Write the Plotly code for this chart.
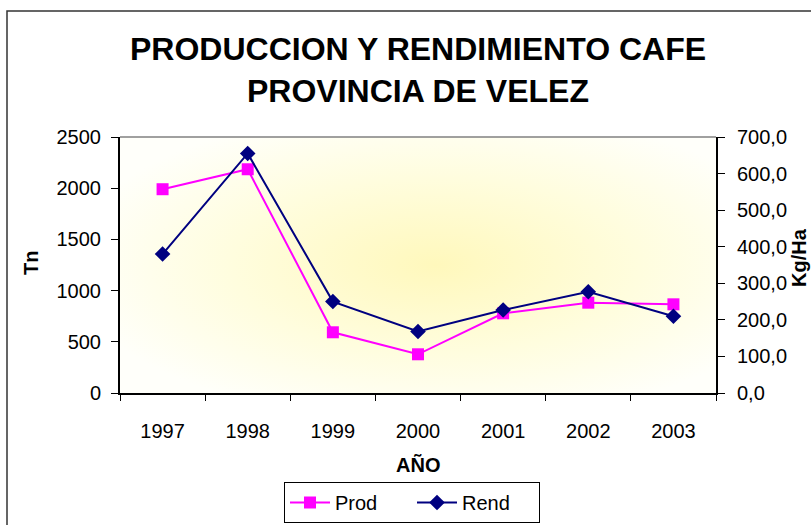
import base64
import plotly.graph_objects as go

years = ["1997", "1998", "1999", "2000", "2001", "2002", "2003"]
prod = [1990, 2185, 593, 378, 778, 882, 866]
rend = [380, 655, 250, 168, 227, 277, 210]

W, H = 811, 525
L, R, T, B = 120, 716, 137, 393

def px(x):
    return (x - L) / (R - L)

def py(y):
    return (B - y) / (B - T)

svg = ('<svg xmlns="http://www.w3.org/2000/svg" width="596" height="256" viewBox="0 0 596 256" preserveAspectRatio="none">'
       '<defs><radialGradient id="g" cx="0.53" cy="0.5" r="0.62" gradientUnits="objectBoundingBox">'
       '<stop offset="0" stop-color="#FFF8BC"/><stop offset="0.55" stop-color="#FFFDDE"/>'
       '<stop offset="1" stop-color="#FFFFFA"/></radialGradient></defs>'
       '<rect x="0" y="0" width="596" height="256" fill="url(#g)"/></svg>')
src = "data:image/svg+xml;base64," + base64.b64encode(svg.encode()).decode()

fig = go.Figure()
fig.add_trace(go.Scatter(x=years, y=prod, name="Prod", mode="lines+markers",
                         line=dict(color="#FF00FF", width=2),
                         marker=dict(symbol="square", size=12, color="#FF00FF")))
fig.add_trace(go.Scatter(x=years, y=rend, name="Rend", mode="lines+markers", yaxis="y2",
                         line=dict(color="#000080", width=2),
                         marker=dict(symbol="diamond", size=12, color="#000080")))

FONT = "Liberation Sans, Arial"
tickfont = dict(family=FONT, size=20, color="black")
boldfont = dict(family=FONT, size=20, color="black")

fig.update_layout(
    width=W, height=H,
    margin=dict(l=L, r=W - R, t=T, b=H - B, autoexpand=False),
    paper_bgcolor="white", plot_bgcolor="rgba(0,0,0,0)",
    separators=",.",
    showlegend=True,
    legend=dict(orientation="h", x=px(284), xanchor="left",
                y=py(482), yanchor="top", bordercolor="black", borderwidth=1,
                bgcolor="white", font=dict(family=FONT, size=20, color="black"),
                itemwidth=40, entrywidth=72, tracegroupgap=0),
    xaxis=dict(type="category", range=[-0.5, 6.5], showline=True, linecolor="black", linewidth=2,
               ticks="outside", ticklen=6, tickcolor="black", tickson="boundaries",
               showgrid=False, tickfont=tickfont, ticklabelstandoff=19, zeroline=False),
    yaxis=dict(range=[0, 2500], dtick=500, tickformat="d", showline=True, linecolor="black", linewidth=2,
               ticks="outside", ticklen=7, tickcolor="black", showgrid=False, zeroline=False,
               tickfont=tickfont, ticklabelstandoff=6),
    yaxis2=dict(range=[0, 700], dtick=100, tickformat=".1f", overlaying="y", side="right",
                showline=True, linecolor="black", linewidth=2, ticks="outside", ticklen=7,
                tickcolor="black", showgrid=False, zeroline=False, tickfont=tickfont,
                ticklabelstandoff=8),
    images=[dict(source=src, xref="paper", yref="paper", x=0, y=1, sizex=1, sizey=1,
                 sizing="stretch", layer="below", xanchor="left", yanchor="top")],
    shapes=[
        dict(type="line", xref="paper", yref="paper", x0=0, x1=1, y0=1, y1=1,
             line=dict(color="#808080", width=1.5)),
        dict(type="rect", xref="paper", yref="paper", x0=px(7), x1=px(830), y0=py(545), y1=py(11),
             line=dict(color="#333333", width=1.5)),
    ],
    annotations=[
        dict(text="<b>PRODUCCION Y RENDIMIENTO CAFE</b>", xref="paper", yref="paper",
             x=px(418), y=py(49), showarrow=False, xanchor="center", yanchor="middle",
             font=dict(family=FONT, size=32, color="black")),
        dict(text="<b>PROVINCIA DE VELEZ</b>", xref="paper", yref="paper",
             x=px(418), y=py(91), showarrow=False, xanchor="center", yanchor="middle",
             font=dict(family=FONT, size=32, color="black")),
        dict(text="<b>Tn</b>", xref="paper", yref="paper", x=px(31), y=py(263), showarrow=False,
             textangle=-90, xanchor="center", yanchor="middle", font=boldfont),
        dict(text="<b>Kg/Ha</b>", xref="paper", yref="paper", x=px(799), y=py(258), showarrow=False,
             textangle=-90, xanchor="center", yanchor="middle", font=boldfont),
        dict(text="<b>AÑO</b>", xref="paper", yref="paper", x=px(418), y=py(465), showarrow=False,
             xanchor="center", yanchor="middle", font=boldfont),
    ],
)

fig.write_html("out.html", config={"displayModeBar": False},
               post_script="document.body.style.margin='0';document.body.style.overflow='hidden';")
